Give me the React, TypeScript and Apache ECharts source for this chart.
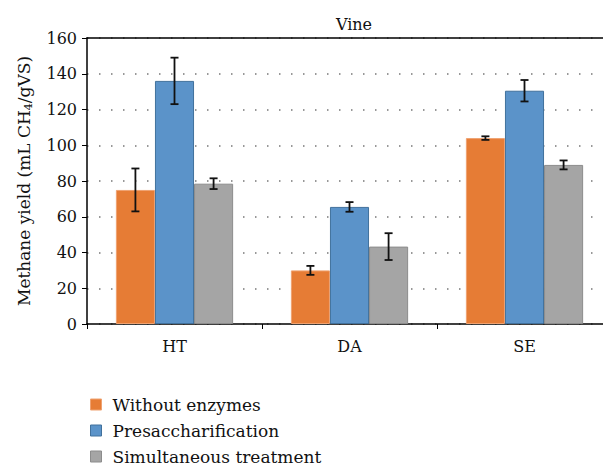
import React, { useEffect, useRef } from "react";
import * as echarts from "echarts";

const categories = ["HT", "DA", "SE"];
const seriesNames = ["Without enzymes", "Presaccharification", "Simultaneous treatment"];
const withoutEnzymes = [75, 30, 104];
const presaccharification = [136, 65.5, 130.5];
const simultaneous = [78.5, 43.3, 89];
const errWithout = [12, 2.5, 1];
const errPresacch = [13, 2.7, 6];
const errSimult = [3, 7.5, 2.5];
const yTicks = { min: 0, max: 160, interval: 20 };

const colors = ["#E67C35", "#5B93C9", "#A5A5A5"];
const borders = ["#EFA271", "#41719C", "#8C8C8C"];
const FONT = "DejaVu Serif";

export default function App() {
  const ref = useRef<HTMLDivElement>(null);
  useEffect(() => {
    const chart = echarts.init(ref.current!, undefined, { renderer: "svg" });
    const values = [withoutEnzymes, presaccharification, simultaneous];
    const errs = [errWithout, errPresacch, errSimult];
    const catGap = 0.33;
    const bars = values.map((v, i) => ({
      name: seriesNames[i],
      type: "bar",
      data: v,
      barGap: "0%",
      barCategoryGap: "33%",
      itemStyle: { color: colors[i], borderColor: borders[i], borderWidth: 1 },
    }));
    const errSeries = values.map((v, i) => ({
      type: "custom",
      name: "err" + i,
      silent: true,
      legendHoverLink: false,
      data: v.map((val, k) => [k, val, errs[i][k]]),
      encode: { x: 0, y: 1 },
      z: 10,
      clip: false,
      renderItem: (params: any, api: any) => {
        const k = api.value(0);
        const val = api.value(1);
        const e = api.value(2);
        const catW = api.size([1, 0])[0];
        const bw = (catW * (1 - catGap)) / 3;
        const c = api.coord([k, val]);
        const x = c[0] + (i - 1) * bw;
        const hi = api.coord([k, val + e])[1];
        const lo = api.coord([k, val - e])[1];
        const cap = 4;
        const st = { stroke: "#111", lineWidth: 1.8 };
        return {
          type: "group",
          children: [
            { type: "line", shape: { x1: x, y1: hi, x2: x, y2: lo }, style: st },
            { type: "line", shape: { x1: x - cap, y1: hi, x2: x + cap, y2: hi }, style: st },
            { type: "line", shape: { x1: x - cap, y1: lo, x2: x + cap, y2: lo }, style: st },
          ],
        };
      },
    }));
    chart.setOption({
      animation: false,
      textStyle: { fontFamily: FONT },
      title: {
        text: "Vine",
        left: 349,
        textAlign: "center",
        top: 11,
        textStyle: { fontFamily: FONT, fontSize: 16, fontWeight: "normal", color: "#111" },
      },
      legend: {
        orient: "vertical",
        left: 85,
        top: 391,
        height: 90,
        itemWidth: 11,
        itemHeight: 11,
        itemGap: 9,
        icon: "rect",
        data: seriesNames.map((n, i) => ({
          name: n,
          itemStyle: { color: colors[i], borderColor: borders[i], borderWidth: 1 },
        })),
        textStyle: { fontFamily: FONT, fontSize: 17, color: "#111", padding: [0, 0, 0, 6] },
      },
      grid: { left: 87, top: 38, width: 525, height: 286, outerBoundsMode: "none", containLabel: false },
      xAxis: [
        {
          type: "category",
          data: categories,
          axisLine: { lineStyle: { color: "#000", width: 1.5 } },
          axisTick: { show: true, length: 5, lineStyle: { color: "#000" } },
          axisLabel: { fontFamily: FONT, fontSize: 16, color: "#111", margin: 14 },
        },
        {
          type: "category",
          data: categories,
          position: "top",
          axisLine: { show: true, onZero: false, lineStyle: { color: "#000", width: 1.5 } },
          axisTick: { show: false },
          axisLabel: { show: false },
        },
      ],
      yAxis: {
        type: "value",
        min: yTicks.min,
        max: yTicks.max,
        interval: yTicks.interval,
        name: "{a|Methane yield (mL CH}{s|4}{a|/gVS)}",
        nameLocation: "middle",
        nameGap: 53,
        nameTextStyle: {
          rich: {
            a: { fontFamily: FONT, fontSize: 17, color: "#111" },
            s: { fontFamily: FONT, fontSize: 11, color: "#111", verticalAlign: "bottom", padding: [10, 0, 0, 0] },
          },
        },
        axisLine: { show: true, lineStyle: { color: "#000", width: 1.5 } },
        axisTick: { show: true, length: 5, lineStyle: { color: "#000" } },
        axisLabel: { fontFamily: FONT, fontSize: 16, color: "#111", margin: 10 },
        splitLine: { show: true, lineStyle: { color: "#777", width: 1.5, type: [1.5, 10.5] } },
      },
      series: [...bars, ...errSeries],
    });
    return () => chart.dispose();
  }, []);
  return <div ref={ref} style={{ width: 603, height: 466, position: "absolute", left: 0, top: 0 }} />;
}
